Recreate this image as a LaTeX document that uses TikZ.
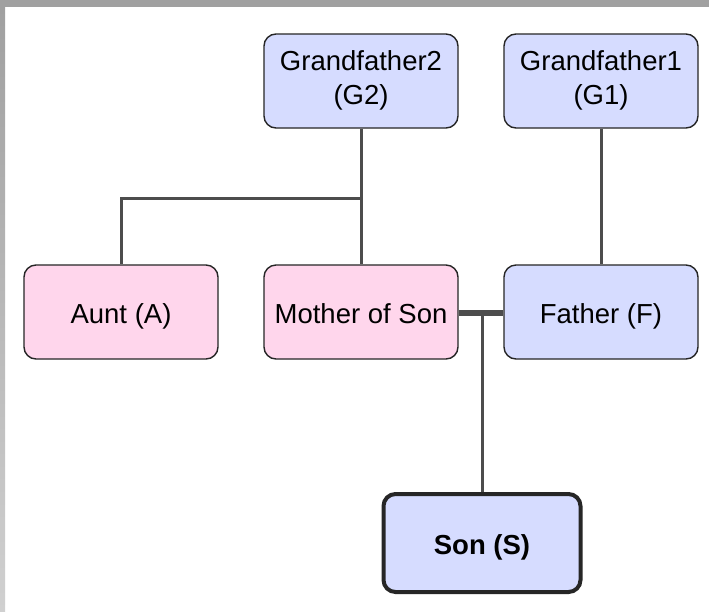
\documentclass[tikz,border=0pt]{standalone}
\usepackage{fontspec}
\setmainfont{Liberation Sans}
\definecolor{boxblue}{RGB}{214,220,255}
\definecolor{boxpink}{RGB}{255,214,236}
\definecolor{linegray}{RGB}{77,77,77}
\definecolor{framegray}{RGB}{160,160,160}
\definecolor{framelight}{RGB}{208,208,208}
\begin{document}
\begin{tikzpicture}[x=1pt,y=-1pt,
  person/.style={draw=black!85, line width=1.4pt, rounded corners=12pt,
    minimum width=194pt, minimum height=94pt, align=center, inner sep=0pt,
    font=\fontsize{27.5}{34}\selectfont, execute at begin node={\rule[-6.4pt]{0pt}{36.4pt}}},
  male/.style={person, fill=boxblue},
  female/.style={person, fill=boxpink},
  link/.style={draw=linegray, line width=3pt},
  marriage/.style={draw=linegray, line width=6.5pt}]
\useasboundingbox (0,0) rectangle (709,611);
\fill[white] (0,0) rectangle (709,611);
\fill[framegray] (0,0) rectangle (709,7);
\shade[top color=framegray, bottom color=framelight] (0,7) rectangle (5,611);
% nodes
\node[male] (g2) at (361,81) {Grandfather2\\(G2)};
\node[male] (g1) at (601,81) {Grandfather1\\(G1)};
\node[female] (a) at (121,312) {Aunt (A)};
\node[female] (m) at (361,312) {Mother of Son};
\node[male] (f) at (601,312) {Father (F)};
\node[male, line width=4pt, minimum width=197pt, minimum height=98pt, font=\fontsize{27.5}{34}\selectfont\bfseries] (s) at (482,543) {Son (S)};
% connectors
\coordinate (j) at (361,198);
\coordinate (ja) at (121,198);
\draw[link] (g2.south) -- (m.north);
\draw[link] (j) -- (ja) -- (a.north);
\draw[link] (g1.south) -- (f.north);
\draw[marriage] (m.east |- 0,313) -- (f.west |- 0,313);
\coordinate (mj) at (482,313);
\draw[link] (mj) -- (s.north);
\end{tikzpicture}
\end{document}
